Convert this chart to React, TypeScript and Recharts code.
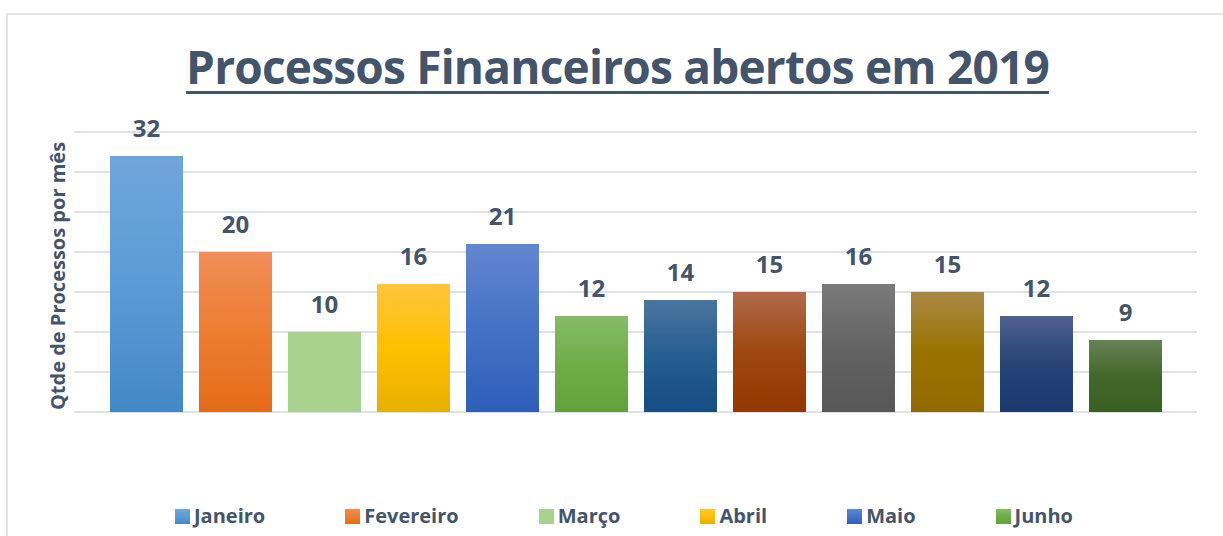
import React from 'react';
import { BarChart, Bar, XAxis, YAxis, CartesianGrid, LabelList } from 'recharts';

const months = ['Janeiro', 'Fevereiro', 'Março', 'Abril', 'Maio', 'Junho', 'Julho', 'Agosto', 'Setembro', 'Outubro', 'Novembro', 'Dezembro'];
const values = [32, 20, 10, 16, 21, 12, 14, 15, 16, 15, 12, 9];
const yTicks = [0, 5, 10, 15, 20, 25, 30, 35];
const yMax = 35;

// top / middle / bottom of each bar's gradient (Excel style fill)
const colors = [
    ['#6fa6dc', '#5b9bd5', '#4388c8'],
    ['#f08d59', '#ed7d31', '#e46b17'],
    ['#a9d18e', '#a9d18e', '#a9d18e'],
    ['#ffc53e', '#ffc000', '#e6b000'],
    ['#6386d1', '#4472c4', '#2f5eb9'],
    ['#86bb68', '#70ad47', '#62a23a'],
    ['#4c74a1', '#255e91', '#154d84'],
    ['#b16a4a', '#9e480e', '#943800'],
    ['#7a7a7a', '#636363', '#575757'],
    ['#a98846', '#997300', '#946a00'],
    ['#4f6190', '#264478', '#1c396f'],
    ['#688256', '#43682b', '#395f23'],
];

const TEXT = '#44546a';
const FONT = '"Open Sans", sans-serif';

const chartData = [
    months.reduce((row: Record<string, number | string>, m, i) => {
        row[m] = values[i];
        return row;
    }, { name: '2019' }),
];

// only the first legend row is visible in the original, the rest wraps out of the frame
const legendVisible = months.slice(0, 6);

const gridRows = ({ yAxis, offset }: any) => {
    if (yAxis && typeof yAxis.scale === 'function') {
        return yTicks.map((t) => yAxis.scale(t));
    }
    return yTicks.map((t) => offset.top + offset.height * (1 - t / yMax));
};

const App = () => {
    return (
        <div style={{ position: 'absolute', left: 0, top: 0, width: 1223, height: 536, overflow: 'hidden', background: '#fff', fontFamily: FONT }}>
            <div style={{ position: 'absolute', left: 6, top: 13, width: 1240, height: 560, border: '2px solid #e2e5e9' }} />
            <div
                style={{
                    position: 'absolute',
                    left: 0,
                    width: 1235,
                    top: 35,
                    textAlign: 'center',
                    fontSize: 46,
                    fontWeight: 700,
                    letterSpacing: -0.8,
                    color: TEXT,
                    textDecoration: 'underline',
                    textDecorationThickness: 3,
                    textUnderlineOffset: 7,
                    whiteSpace: 'nowrap',
                }}>
                Processos Financeiros abertos em 2019
            </div>
            <div
                style={{
                    position: 'absolute',
                    left: 57,
                    top: 276,
                    transform: 'translate(-50%, -50%) rotate(-90deg)',
                    fontSize: 20,
                    fontWeight: 700,
                    color: TEXT,
                    whiteSpace: 'nowrap',
                }}>
                Qtde de Processos por mês
            </div>
            <div style={{ position: 'absolute', left: 0, top: 0 }}>
                <BarChart
                    width={1223}
                    height={536}
                    data={chartData}
                    margin={{ top: 132, right: 26, bottom: 124, left: 74 }}
                    barCategoryGap={36}
                    barGap={16}>
                    <defs>
                        {colors.map((c, i) => (
                            <linearGradient key={i} id={`grad${i}`} x1="0" y1="0" x2="0" y2="1">
                                <stop offset="0%" stopColor={c[0]} />
                                <stop offset="50%" stopColor={c[1]} />
                                <stop offset="100%" stopColor={c[2]} />
                            </linearGradient>
                        ))}
                    </defs>
                    <CartesianGrid vertical={false} horizontalCoordinatesGenerator={gridRows} stroke="#dde1e7" strokeWidth={1.8} />
                    <XAxis dataKey="name" hide />
                    <YAxis domain={[0, yMax]} ticks={yTicks} width={0} tick={false} axisLine={false} tickLine={false} />
                    {months.map((m, i) => (
                        <Bar key={m} dataKey={m} fill={`url(#grad${i})`} isAnimationActive={false}>
                            <LabelList
                                dataKey={m}
                                position="top"
                                offset={19}
                                style={{ fill: TEXT, fontSize: 24, fontWeight: 700, fontFamily: FONT }}
                            />
                        </Bar>
                    ))}
                </BarChart>
            </div>
            <div
                style={{
                    position: 'absolute',
                    left: 175,
                    width: 898,
                    top: 502,
                    display: 'flex',
                    justifyContent: 'space-between',
                    alignItems: 'center',
                }}>
                {legendVisible.map((m) => {
                    const c = colors[months.indexOf(m)];
                    return (
                        <div key={m} style={{ display: 'flex', alignItems: 'center' }}>
                            <span
                                style={{
                                    display: 'inline-block',
                                    width: 15,
                                    height: 15,
                                    marginRight: 4,
                                    background: `linear-gradient(${c[0]}, ${c[1]}, ${c[2]})`,
                                }}
                            />
                            <span style={{ fontSize: 20, fontWeight: 700, color: TEXT, lineHeight: '28px' }}>{m}</span>
                        </div>
                    );
                })}
            </div>
        </div>
    );
};

export default App;
